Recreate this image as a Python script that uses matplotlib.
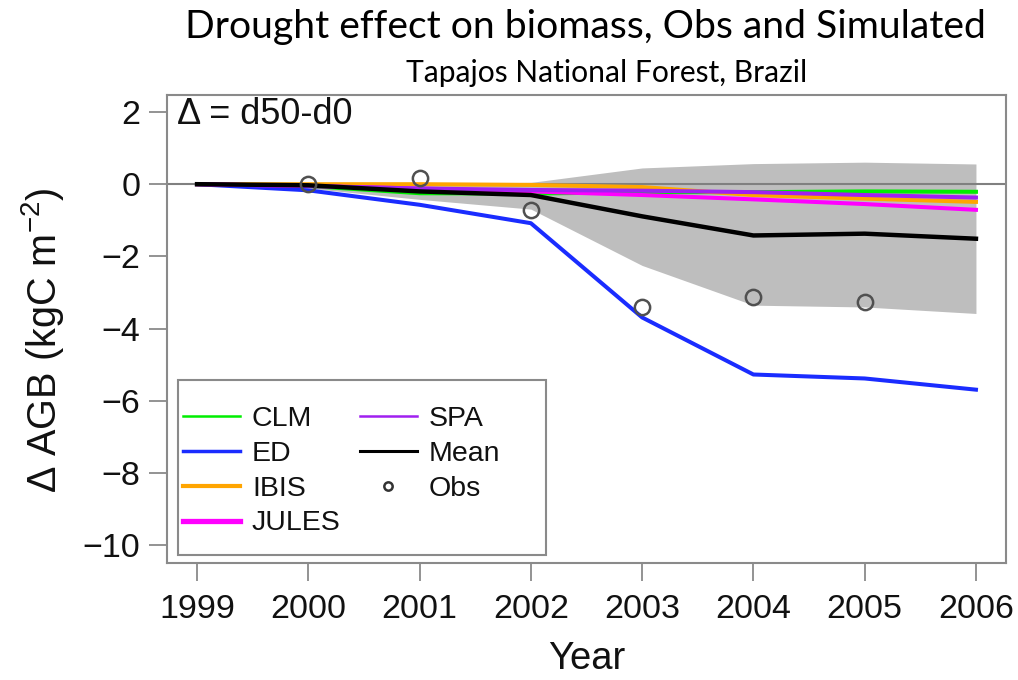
import matplotlib
matplotlib.use("Agg")
import matplotlib.pyplot as plt
from matplotlib.lines import Line2D
from matplotlib.patches import Rectangle

years = [1999, 2000, 2001, 2002, 2003, 2004, 2005, 2006]
clm   = [0, -0.05, -0.25, -0.26, -0.22, -0.22, -0.20, -0.21]
ed    = [0, -0.17, -0.57, -1.08, -3.69, -5.27, -5.38, -5.69]
ibis  = [0, 0.00, 0.00, -0.02, -0.08, -0.30, -0.40, -0.49]
jules = [0, -0.05, -0.12, -0.20, -0.30, -0.42, -0.55, -0.71]
spa   = [0, -0.05, -0.12, -0.16, -0.18, -0.22, -0.30, -0.37]
mean  = [0, -0.03, -0.20, -0.30, -0.89, -1.42, -1.37, -1.51]
band_hi = [0, 0.03, 0.02, 0.05, 0.45, 0.57, 0.61, 0.56]
band_lo = [0, -0.11, -0.42, -0.69, -2.25, -3.35, -3.40, -3.58]
obs_years = [2000, 2001, 2002, 2003, 2004, 2005]
obs = [0.00, 0.17, -0.72, -3.41, -3.13, -3.25]

model_names = ["CLM", "ED", "IBIS", "JULES", "SPA"]
model_colors = ["#00EE00", "#1a2cff", "#FFA500", "#FF00FF", "#A020F0"]

plt.rcParams['font.family'] = ['Liberation Sans', 'DejaVu Sans']
plt.rcParams['mathtext.fontset'] = 'custom'
plt.rcParams['mathtext.rm'] = 'Liberation Sans'
plt.rcParams['mathtext.it'] = 'Liberation Sans:italic'
plt.rcParams['mathtext.sf'] = 'Liberation Sans'

W, H = 1018, 680
fig = plt.figure(figsize=(W / 100, H / 100), dpi=100)
L, R, T, B = 167, 1006, 95, 563
ax = fig.add_axes([L / W, 1 - B / H, (R - L) / W, (B - T) / H])

grey = "#8a8a8a"
ax.fill_between(years, band_lo, band_hi, color="#BEBEBE", lw=0, zorder=1)
ax.axhline(0, color="#808080", lw=1.5, zorder=2)

series = [clm, ed, ibis, jules, spa]
for vals, c in zip(series, model_colors):
    ax.plot(years, vals, color=c, lw=2.9, zorder=3)
ax.plot(years, mean, color="black", lw=3.2, zorder=4)
ax.plot(obs_years, obs, 'o', ms=11, mfc='none', mec='#505050', mew=1.8, zorder=5)

ax.set_xlim(1998.73, 2006.27)
ax.set_ylim(-10.49, 2.47)
ax.set_xticks(years)
ax.set_xticklabels([str(y) for y in years])
ax.set_yticks([2, 0, -2, -4, -6, -8, -10])
ax.set_yticklabels(["2", "0", "\u22122", "\u22124", "\u22126", "\u22128", "\u221210"])
ax.tick_params(axis='both', colors=grey, labelcolor='#111111', labelsize=24.5,
               length=13, width=1.3, direction='out')
ax.tick_params(axis='x', pad=9)
ax.tick_params(axis='y', pad=6)
for s in ax.spines.values():
    s.set_color(grey)
    s.set_linewidth(1.5)

ax.set_xlabel("Year", fontsize=27.5, color='#111111')
ax.xaxis.set_label_coords(0.5, -(659 - B) / (B - T))
ax.xaxis.label.set_va('center')
ax.set_ylabel("\u0394 AGB (kgC m$^{-2}$)", fontsize=28.5, color='#111111')
ax.yaxis.set_label_coords(-(L - 43) / (R - L), (B - 340) / (B - T))
ax.yaxis.label.set_va('center')

ax.text(10 / (R - L), 1 - 20 / (B - T), "\u0394 = d50-d0", transform=ax.transAxes,
        fontsize=26, va='center', ha='left', color='#111111')

# legend frame
lx0, ly0, lx1, ly1 = 178, 380, 546, 555
ax.add_patch(Rectangle(((lx0 - L) / (R - L), (B - ly1) / (B - T)),
                       (lx1 - lx0) / (R - L), (ly1 - ly0) / (B - T),
                       transform=ax.transAxes, fill=True, facecolor='white',
                       edgecolor=grey, lw=1.5, zorder=6))

leg_lws = [1.8, 2.5, 3.0, 3.8, 1.8]
handles = [Line2D([], [], color=c, lw=w) for c, w in zip(model_colors, leg_lws)]
labels = list(model_names)
handles += [Line2D([], [], color='black', lw=2.2),
            Line2D([], [], ls='none', marker='o', ms=6, mfc='none', mec='#333333', mew=1.8)]
labels += ["Mean", "Obs"]
leg = ax.legend(handles, labels, ncol=2, loc='upper left',
                bbox_to_anchor=((183 - L) / (R - L), (B - 406) / (B - T)),
                frameon=False, fontsize=20.5, handlelength=2.0, handletextpad=0.42,
                columnspacing=0.67, labelspacing=0.31, borderpad=0, borderaxespad=0)
leg.set_zorder(7)
for t in leg.get_texts():
    t.set_color('#111111')

fig.text(585 / W, 1 - 27 / H, "Drought effect on biomass, Obs and Simulated",
         fontsize=28.2, family=['Lato', 'DejaVu Sans'], ha='center', va='center', color='black')
fig.text(607 / W, 1 - 73 / H, "Tapajos National Forest, Brazil",
         fontsize=21.6, family=['Lato', 'DejaVu Sans'], ha='center', va='center', color='black')

fig.savefig("out.png", dpi=100)
